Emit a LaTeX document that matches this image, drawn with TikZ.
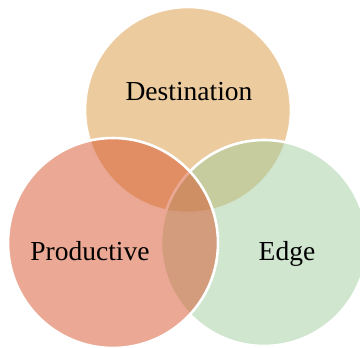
\documentclass[tikz,border=0pt]{standalone}
\usepackage{fontspec}
\setmainfont{Liberation Serif}
\usetikzlibrary{positioning}
\definecolor{vennTan}{RGB}{236,203,158}
\definecolor{vennRed}{RGB}{215,83,43}
\definecolor{vennGreen}{RGB}{161,205,159}
\begin{document}
\begin{tikzpicture}[
x=1pt, y=-1pt,
every node/.style={font=\fontsize{27.5}{30}\selectfont},
venn/.style={circle, draw=white, line width=2.6pt, inner sep=0pt, outer sep=0pt},
tag/.style={anchor=base, inner sep=0pt}
]
\useasboundingbox (0,0) rectangle (360,348);
\clip (0,0) rectangle (360,348);
% sets, top one opaque, lower two half transparent
\node[venn, fill=vennTan, minimum size=206pt] (D) at (188,110) {};
\node[venn, fill=vennGreen, fill opacity=0.5, minimum size=206pt] (E) at (264,243) {};
\node[venn, fill=vennRed, fill opacity=0.5, minimum size=210pt] (P) at (113,243) {};
% labels
\node[tag] (Dl) at (189,101) {Destination};
\node[tag] (Pl) at (90,261) {Productive};
\node[tag] (El) at (287,261) {Edge};
\end{tikzpicture}
\end{document}
